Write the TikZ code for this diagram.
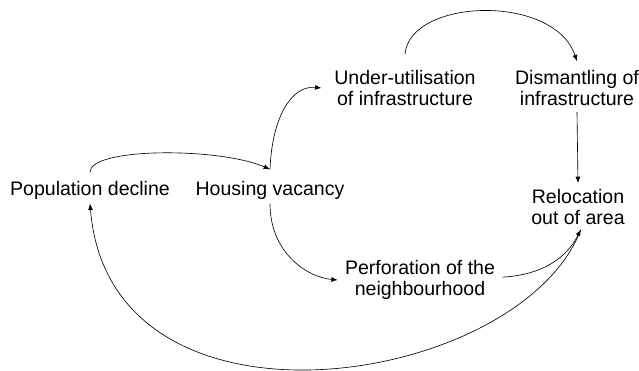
\documentclass[tikz,border=0pt]{standalone}
\usepackage{fontspec}
\setmainfont{Liberation Sans}
\usetikzlibrary{arrows.meta}
\tikzset{
  box/.style={align=center,inner sep=2pt,font=\fontsize{13.9}{15.5}\selectfont},
  arr/.style={-{Latex[length=4.5pt,width=3.5pt]},line width=0.45pt}
}
\begin{document}
\begin{tikzpicture}[x=0.025cm,y=-0.025cm]
				\useasboundingbox (0,0) rectangle (639,370);
				\node[box] (pop) at (90,190) {Population decline};
				\node[box] (house) at (270,190) {Housing vacancy};
				\node[box] (under) at (405,88) {Under-utilisation\\of infrastructure};
				\node[box] (dism) at (577,88) {Dismantling of\\infrastructure};
				\node[box] (reloc) at (578,207) {Relocation\\out of area};
				\node[box] (perf) at (420,280) {Perforation of the\\neighbourhood};
				\draw[arr] ([yshift=4pt]pop.north) .. controls +(0,-25) and +(-50,-22) .. ([yshift=6pt]house.north);
				\draw[arr] ([yshift=6pt]house.north) .. controls +(2,-52) and +(-30,-3) .. ([xshift=-7pt]under.west);
				\draw[arr] ([yshift=9pt]under.north) .. controls +(5,-56) and +(-23,-68) .. ([yshift=4pt]dism.north);
				\draw[arr] ([yshift=-2pt]dism.south) -- ([yshift=2pt]reloc.north);
				\draw[arr] ([yshift=-1pt]house.south) .. controls +(0,48) and +(-32,-3) .. ([xshift=-3pt]perf.west);
				\draw[arr] ([xshift=3pt,yshift=2pt]perf.east) .. controls +(50,-3) and +(-10,20) .. ([xshift=2pt,yshift=-1pt]reloc.south);
				\draw[arr] ([xshift=2pt,yshift=-1pt]reloc.south) .. controls +(-60,158) and +(20,248) .. ([yshift=-1pt]pop.south);
\end{tikzpicture}
\end{document}
